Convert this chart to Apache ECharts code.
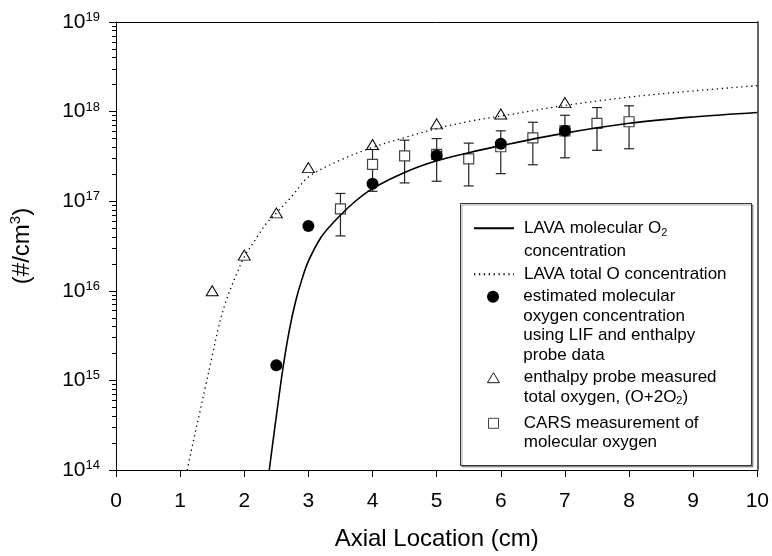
<!DOCTYPE html>
<html>
<head>
<meta charset="utf-8">
<script src="https://cdn.jsdelivr.net/npm/echarts@6/dist/echarts.min.js"></script>
<style>
  html, body { margin: 0; padding: 0; background: #fff; }
  #chart { width: 772px; height: 556px; }
</style>
</head>
<body>
<div id="chart"></div>
<script>
// LAVA model: total atomic-oxygen concentration along the axis (cm, #/cm3)
const lavaTotalX = [1.11, 1.2, 1.3, 1.4, 1.5, 1.6, 1.7, 1.8, 1.9, 2.0, 2.2, 2.34, 2.5, 2.75, 3.0, 3.5, 4.0, 4.5, 5.0, 5.5, 6.0, 7.0, 8.0, 9.0, 10.0];
const lavaTotalO = [1.0e14, 2.0e14, 4.2e14, 8.9e14, 1.86e15, 3.98e15, 7.1e15, 1.12e16, 1.66e16, 2.4e16, 3.98e16, 5.6e16, 7.4e16, 1.15e17, 1.86e17, 2.88e17, 3.98e17, 5.13e17, 6.46e17, 7.76e17, 8.91e17, 1.17e18, 1.45e18, 1.7e18, 1.95e18];

// LAVA model: molecular O2 concentration
const lavaO2X = [2.39, 2.45, 2.5, 2.6, 2.7, 2.8, 2.9, 3.0, 3.2, 3.4, 3.7, 4.0, 4.5, 5.0, 5.5, 6.0, 7.0, 8.0, 9.0, 10.0];
const lavaO2 = [1.0e14, 2.14e14, 3.98e14, 1.32e15, 3.55e15, 7.59e15, 1.35e16, 2.14e16, 3.98e16, 5.89e16, 9.55e16, 1.38e17, 2.09e17, 2.82e17, 3.47e17, 4.17e17, 5.75e17, 7.41e17, 8.71e17, 9.77e17];

// Estimated O2 from LIF + enthalpy probe
const lifX = [2.5, 3, 4, 5, 6, 7];
const lifO2 = [1.48e15, 5.3e16, 1.57e17, 3.24e17, 4.37e17, 6.1e17];

// Enthalpy probe total oxygen (O + 2 O2)
const probeX = [1.5, 2, 2.5, 3, 4, 5, 6, 7];
const probeTotal = [1.0e16, 2.5e16, 7.4e16, 2.37e17, 4.3e17, 7.3e17, 9.4e17, 1.26e18];

// CARS molecular oxygen with its uncertainty range
const carsX = [3.5, 4, 4.5, 5, 5.5, 6, 6.5, 7, 7.5, 8];
const carsO2 = [8.2e16, 2.57e17, 3.2e17, 3.33e17, 2.97e17, 4.05e17, 5.08e17, 6.1e17, 7.4e17, 7.7e17];
const carsLow = [4.1e16, 1.29e17, 1.6e17, 1.67e17, 1.48e17, 2.03e17, 2.55e17, 3.05e17, 3.7e17, 3.85e17];
const carsHigh = [1.22e17, 3.85e17, 4.8e17, 5.0e17, 4.45e17, 6.1e17, 7.6e17, 9.1e17, 1.11e18, 1.16e18];

// Axis ticks
const xTickStep = 1;
const yDecades = [14, 15, 16, 17, 18, 19];

const FONT = 'Liberation Sans, Arial, sans-serif';
const pairs = (xs, ys) => xs.map((x, i) => [x, ys[i]]);

const NAMES = {
  o2: 'LAVA molecular O2 concentration',
  total: 'LAVA total O concentration',
  lif: 'estimated molecular oxygen concentration using LIF and enthalpy probe data',
  probe: 'enthalpy probe measured total oxygen, (O+2O2)',
  cars: 'CARS measurement of molecular oxygen'
};

const legendText = {
  [NAMES.o2]: '{a|LAVA molecular O}{sub|2}\n{c|concentration}',
  [NAMES.total]: '{a|LAVA total O concentration}',
  [NAMES.lif]: '{a|estimated molecular}\n{a|oxygen concentration}\n{a|using LIF and enthalpy}\n{a|probe data}',
  [NAMES.probe]: '{a|enthalpy probe measured}\n{a|total oxygen, (O+2O}{sub|2}{a|)}',
  [NAMES.cars]: '{a|CARS measurement of}\n{a|molecular oxygen}'
};

const LH = 19.4;
const legendRich = {
  a: { fontFamily: FONT, fontSize: 17, color: '#000', lineHeight: LH },
  c: { fontFamily: FONT, fontSize: 17, color: '#000', lineHeight: 27.3 },
  sub: { fontFamily: FONT, fontSize: 11, color: '#000', lineHeight: 11, verticalAlign: 'bottom' }
};

// One legend block per entry; the top padding keeps the symbol level with the first text line
function legendBlock(name, left, top, padTop, padLeft, w, h, extra) {
  return Object.assign({
    data: [name],
    left: left,
    top: top,
    orient: 'vertical',
    padding: 0,
    itemGap: 0,
    itemWidth: w,
    itemHeight: h,
    selectedMode: false,
    formatter: (n) => legendText[n],
    textStyle: {
      fontFamily: FONT, fontSize: 17, color: '#000', lineHeight: LH,
      padding: [padTop, 0, 0, padLeft],
      rich: legendRich
    }
  }, extra || {});
}

const hiddenSymbol = { itemStyle: { color: 'rgba(0,0,0,0)', borderColor: 'rgba(0,0,0,0)', borderWidth: 0 } };

const chart = echarts.init(document.getElementById('chart'), null, { renderer: 'canvas' });

const option = {
  animation: false,
  backgroundColor: '#fff',
  grid: { left: 114, top: 22, right: 14, bottom: 83, containLabel: false },
  xAxis: [{
    type: 'value', min: 0, max: 10, interval: xTickStep,
    name: 'Axial Location (cm)', nameLocation: 'middle', nameGap: 57,
    nameTextStyle: { fontFamily: FONT, fontSize: 24, color: '#000' },
    axisLine: { onZero: false, lineStyle: { color: '#000', width: 1 } },
    axisTick: { length: 7, lineStyle: { color: '#000' } },
    axisLabel: { fontFamily: FONT, fontSize: 21, color: '#000', margin: 21 },
    splitLine: { show: false }
  }, {
    type: 'value', min: 0, max: 10, position: 'top',
    axisLine: { show: true, onZero: false, lineStyle: { color: '#000', width: 1 } },
    axisTick: { show: false }, axisLabel: { show: false }, splitLine: { show: false }
  }],
  yAxis: [{
    type: 'log', logBase: 10, min: 1e14, max: 1e19,
    name: '{m|(#/cm}{s|3}{m|)}', nameLocation: 'middle', nameGap: 80,
    nameTextStyle: {
      rich: {
        m: { fontFamily: FONT, fontSize: 24, color: '#000', lineHeight: 28 },
        s: { fontFamily: FONT, fontSize: 15, color: '#000', lineHeight: 15, verticalAlign: 'top' }
      }
    },
    axisLine: { onZero: false, lineStyle: { color: '#000', width: 1 } },
    axisTick: { length: 7, lineStyle: { color: '#000' } },
    minorTick: { show: true, splitNumber: 9, length: 4, lineStyle: { color: '#000' } },
    axisLabel: {
      margin: 16,
      formatter: (v) => {
        const e = Math.round(Math.log10(v));
        return yDecades.includes(e) ? '{b|10}{s|' + e + '}' : '';
      },
      rich: {
        b: { fontFamily: FONT, fontSize: 21, color: '#000', lineHeight: 22 },
        s: { fontFamily: FONT, fontSize: 13, color: '#000', lineHeight: 13, verticalAlign: 'top' }
      }
    },
    splitLine: { show: false }
  }, {
    type: 'log', logBase: 10, min: 1e14, max: 1e19, position: 'right',
    axisLine: { show: true, onZero: false, lineStyle: { color: '#666', width: 2 } },
    axisTick: { show: false }, axisLabel: { show: false }, splitLine: { show: false }
  }],
  legend: [
    legendBlock(NAMES.o2, 473, 191.3, 27.3, 5, 40, 14, hiddenSymbol),
    legendBlock(NAMES.total, 473, 264.5, 0, 5, 40, 14, hiddenSymbol),
    legendBlock(NAMES.lif, 487, 228.8, 3 * LH, 19.3, 12, 12),
    legendBlock(NAMES.probe, 487, 348.6, LH, 19.3, 12, 10, { itemStyle: { borderWidth: 0.9 } }),
    legendBlock(NAMES.cars, 488, 394.2, LH, 20.3, 10, 10, { itemStyle: { borderWidth: 1 } })
  ],
  graphic: [{
    type: 'rect',
    z: 3,
    silent: true,
    shape: { x: 460.5, y: 203.5, width: 291, height: 262 },
    style: {
      fill: '#fff', stroke: '#333', lineWidth: 1,
      shadowColor: 'rgba(0,0,0,0.35)', shadowOffsetX: 1.5, shadowOffsetY: 1.5, shadowBlur: 0
    }
  }],
  series: [
    {
      name: NAMES.total, type: 'line', data: pairs(lavaTotalX, lavaTotalO),
      symbol: 'none', showSymbol: false, smooth: 0.35, silent: true,
      lineStyle: { color: '#000', width: 1.3, type: [1.3, 3.6] },
      itemStyle: { color: 'rgba(0,0,0,0)' }
    },
    {
      name: NAMES.o2, type: 'line', data: pairs(lavaO2X, lavaO2),
      symbol: 'none', showSymbol: false, smooth: 0.35, silent: true,
      lineStyle: { color: '#000', width: 1.6 },
      itemStyle: { color: 'rgba(0,0,0,0)' }
    },
    {
      name: 'CARS range', type: 'custom', silent: true,
      data: carsX.map((x, i) => [x, carsLow[i], carsHigh[i]]),
      encode: { x: 0, y: [1, 2] },
      renderItem: (params, api) => {
        const x = api.value(0);
        const lo = api.coord([x, api.value(1)]);
        const hi = api.coord([x, api.value(2)]);
        const w = 5;
        const style = { stroke: '#222', lineWidth: 1.2 };
        return {
          type: 'group',
          children: [
            { type: 'line', shape: { x1: lo[0], y1: lo[1], x2: hi[0], y2: hi[1] }, style },
            { type: 'line', shape: { x1: lo[0] - w, y1: lo[1], x2: lo[0] + w, y2: lo[1] }, style },
            { type: 'line', shape: { x1: hi[0] - w, y1: hi[1], x2: hi[0] + w, y2: hi[1] }, style }
          ]
        };
      }
    },
    {
      name: NAMES.cars, type: 'scatter', data: pairs(carsX, carsO2), silent: true,
      symbol: 'rect', symbolSize: 10,
      itemStyle: { color: '#fff', borderColor: '#444', borderWidth: 1.2, opacity: 1 }
    },
    {
      name: NAMES.probe, type: 'scatter', data: pairs(probeX, probeTotal), silent: true,
      symbol: 'triangle', symbolSize: [12, 10],
      itemStyle: { color: '#fff', borderColor: '#000', borderWidth: 1, opacity: 1 }
    },
    {
      name: NAMES.lif, type: 'scatter', data: pairs(lifX, lifO2), silent: true,
      symbol: 'circle', symbolSize: 12,
      itemStyle: { color: '#000', opacity: 1 }
    }
  ]
};

chart.setOption(option);
</script>
</body>
</html>
